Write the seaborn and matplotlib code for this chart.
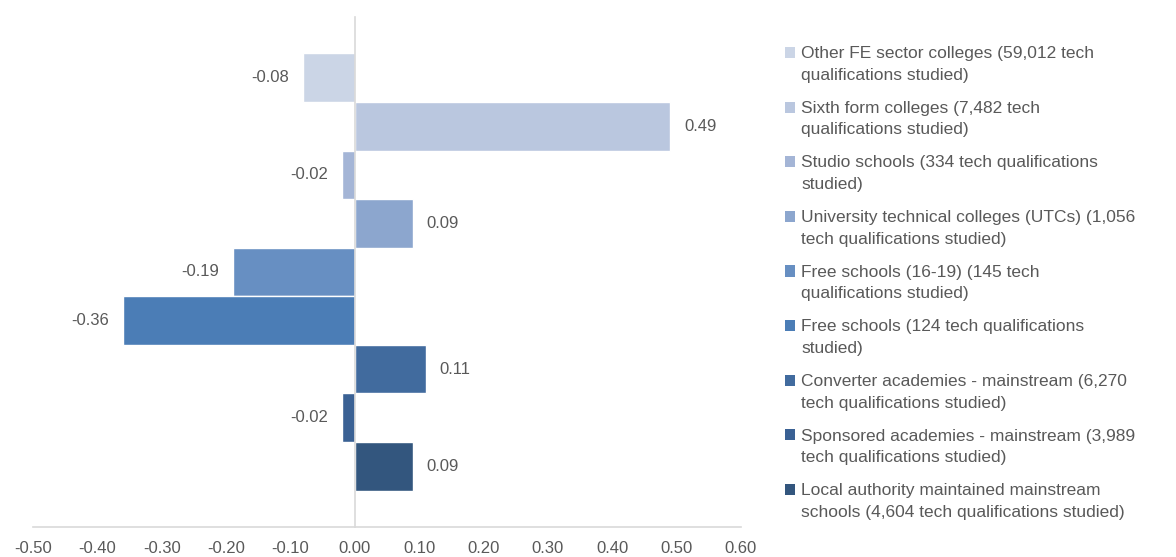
import matplotlib
matplotlib.use("Agg")
import matplotlib.pyplot as plt
import matplotlib.patches as mpatches
from matplotlib.legend_handler import HandlerPatch
import seaborn as sns
import pandas as pd

# Institution types, top to bottom
categories = [
    "Other FE sector colleges (59,012 tech\nqualifications studied)",
    "Sixth form colleges (7,482 tech\nqualifications studied)",
    "Studio schools (334 tech qualifications\nstudied)",
    "University technical colleges (UTCs) (1,056\ntech qualifications studied)",
    "Free schools (16-19) (145 tech\nqualifications studied)",
    "Free schools (124 tech qualifications\nstudied)",
    "Converter academies - mainstream (6,270\ntech qualifications studied)",
    "Sponsored academies - mainstream (3,989\ntech qualifications studied)",
    "Local authority maintained mainstream\nschools (4,604 tech qualifications studied)",
]
values = [-0.08, 0.49, -0.02, 0.09, -0.19, -0.36, 0.11, -0.02, 0.09]
colors = ["#CBD5E6", "#BAC7DF", "#A4B5D6", "#8CA6CE", "#678FC2",
          "#4B7DB6", "#416B9E", "#3A6194", "#33567E"]
x_ticks = [-0.5, -0.4, -0.3, -0.2, -0.1, 0.0, 0.1, 0.2, 0.3, 0.4, 0.5, 0.6]

df = pd.DataFrame({"category": categories, "value": values})

sns.set_theme(style="white")
plt.rcParams["font.family"] = ["Liberation Sans", "DejaVu Sans"]

text_color = "#595959"
axis_color = "#D9D9D9"

fig = plt.figure(figsize=(11.76, 5.57), dpi=100)
ax = fig.add_axes([33 / 1176, 1 - 527 / 557, (741 - 33) / 1176, (527 - 17) / 557])

sns.barplot(data=df, x="value", y="category", hue="category",
            palette=colors, orient="h", width=1.0, dodge=False,
            legend=False, ax=ax, saturation=1)

for cont in ax.containers:
    ax.bar_label(cont, fmt="%.2f", padding=10, fontsize=12, color=text_color)

ax.set_xlim(-0.5, 0.6)
ax.set_ylim(len(categories) - 0.5 + 0.75, -0.5 - 0.75)
ax.set_xticks(x_ticks)
ax.set_xticklabels([f"{t:.2f}" for t in x_ticks])
ax.set_yticks([])
ax.set_xlabel("")
ax.set_ylabel("")
ax.tick_params(axis="x", length=0, pad=10, labelsize=12, labelcolor=text_color)

for side in ("top", "right"):
    ax.spines[side].set_visible(False)
ax.spines["left"].set_position(("data", 0))
ax.spines["left"].set_color(axis_color)
ax.spines["left"].set_linewidth(1.2)
ax.spines["bottom"].set_color(axis_color)
ax.spines["bottom"].set_linewidth(1.2)


def top_square(legend, orig_handle, xdescent, ydescent, width, height, fontsize):
    # square marker lifted to sit beside the first line of a two-line label
    return mpatches.Rectangle((-xdescent, -ydescent + 0.68 * fontsize),
                              width, height)


handles = [mpatches.Patch(facecolor=c, edgecolor="none", label=l)
           for c, l in zip(colors, categories)]
leg = fig.legend(handles=handles, loc="upper left",
                 bbox_to_anchor=(785 / 1176, 1 - 46 / 557),
                 frameon=False, fontsize=12.5, handlelength=0.6,
                 handleheight=0.6, handletextpad=0.35, labelspacing=1.04,
                 borderaxespad=0, borderpad=0,
                 handler_map={mpatches.Patch: HandlerPatch(patch_func=top_square)})
for t in leg.get_texts():
    t.set_color(text_color)
    t.set_linespacing(1.55)

fig.savefig("out.png", dpi=100)
